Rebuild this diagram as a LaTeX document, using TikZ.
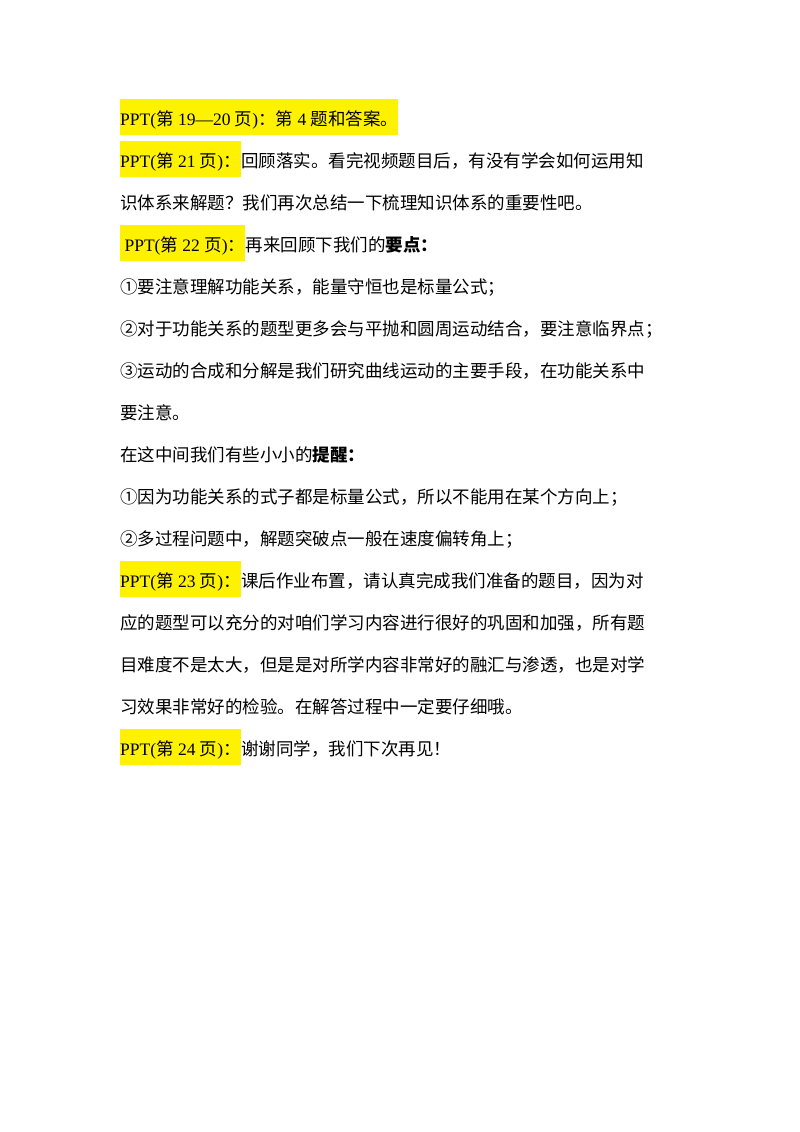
\documentclass[tikz,border=0pt]{standalone}
\usepackage{fontspec}
\setmainfont{Noto Sans CJK SC}
\newfontfamily\lat{Liberation Serif}
\newcommand{\Lt}[1]{{\lat #1}}
\tikzset{ln/.style={anchor=base west,inner sep=0pt,font=\fontsize{17.5pt}{20pt}\selectfont},
hl/.style={ln,fill=yellow,text height=26pt,text depth=10pt}}
\begin{document}
\begin{tikzpicture}[x=1pt,y=-1pt]
\useasboundingbox (0,0) rectangle (800,1132);
\node[hl] (p1) at (120,125) {\Lt{PPT(}第\Lt{ 19—20 }页\Lt{)}：第\Lt{ 4 }题和答案。};
\node[hl] (p2) at (120,167) {\Lt{PPT(}第\Lt{ 21 }页\Lt{)}：};
\node[ln] (t2) at (p2.base east) {回顾落实。看完视频题目后，有没有学会如何运用知};
\node[ln] (t3) at (120,209) {识体系来解题？我们再次总结一下梳理知识体系的重要性吧。};
\node[hl] (p4) at (120,251) {\Lt{ PPT(}第\Lt{ 22 }页\Lt{)}：};
\node[ln] (t4) at (p4.base east) {再来回顾下我们的\textbf{要点：}};
\node[ln] (t5) at (120,293) {①要注意理解功能关系，能量守恒也是标量公式；};
\node[ln] (t6) at (120,335) {②对于功能关系的题型更多会与平抛和圆周运动结合，要注意临界点；};
\node[ln] (t7) at (120,377) {③运动的合成和分解是我们研究曲线运动的主要手段，在功能关系中};
\node[ln] (t8) at (120,419) {要注意。};
\node[ln] (t9) at (120,461) {在这中间我们有些小小的\textbf{提醒：}};
\node[ln] (t10) at (120,503) {①因为功能关系的式子都是标量公式，所以不能用在某个方向上；};
\node[ln] (t11) at (120,545) {②多过程问题中，解题突破点一般在速度偏转角上；};
\node[hl] (p12) at (120,587) {\Lt{PPT(}第\Lt{ 23 }页\Lt{)}：};
\node[ln] (t12) at (p12.base east) {课后作业布置，请认真完成我们准备的题目，因为对};
\node[ln] (t13) at (120,629) {应的题型可以充分的对咱们学习内容进行很好的巩固和加强，所有题};
\node[ln] (t14) at (120,671) {目难度不是太大，但是是对所学内容非常好的融汇与渗透，也是对学};
\node[ln] (t15) at (120,713) {习效果非常好的检验。在解答过程中一定要仔细哦。};
\node[hl] (p16) at (120,755) {\Lt{PPT(}第\Lt{ 24 }页\Lt{)}：};
\node[ln] (t16) at (p16.base east) {谢谢同学，我们下次再见！};
\end{tikzpicture}
\end{document}
